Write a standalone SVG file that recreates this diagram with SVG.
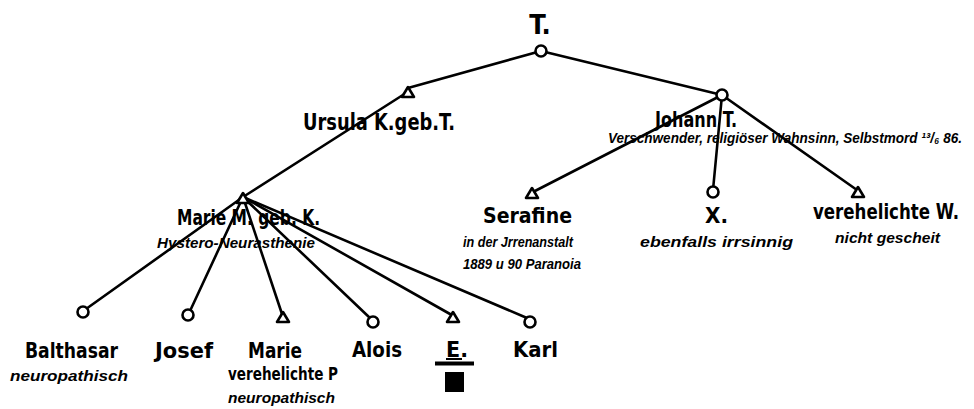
<svg xmlns="http://www.w3.org/2000/svg" width="974" height="409" viewBox="0 0 974 409">
  <style>
    .name { font-family: "DejaVu Sans Condensed", "Liberation Sans", sans-serif; font-weight: bold; fill: #000; }
    .note { font-family: "Liberation Sans", "DejaVu Sans", sans-serif; font-style: italic; font-weight: bold; fill: #000; font-size: 15px; }
    .link { stroke: #000; stroke-width: 2.6; fill: none; stroke-linecap: round; }
    .sym { stroke: #000; stroke-width: 2.6; fill: #fff; }
  </style>
  <defs>
    <!-- male: circle, female: triangle -->
    <circle id="male" r="5.5" class="sym"/>
    <path id="female" d="M0,-6 L6,4 L-6,4 Z" class="sym" stroke-linejoin="round"/>
  </defs>
  <rect width="974" height="409" fill="#fff"/>

  <!-- connectors -->
  <g id="links" class="link">
    <line x1="541" y1="51" x2="408" y2="88"/>
    <line x1="541" y1="51" x2="722" y2="95"/>
    <line x1="406" y1="93" x2="243" y2="197"/>
    <line x1="722" y1="95" x2="533" y2="192"/>
    <line x1="722" y1="95" x2="713" y2="190"/>
    <line x1="722" y1="95" x2="857" y2="190"/>
    <line x1="243" y1="197" x2="86" y2="309"/>
    <line x1="243" y1="197" x2="190" y2="311"/>
    <line x1="243" y1="197" x2="282" y2="314"/>
    <line x1="243" y1="197" x2="370" y2="318"/>
    <line x1="243" y1="197" x2="450" y2="314"/>
    <line x1="243" y1="197" x2="527" y2="318"/>
  </g>

  <g id="n-T">
    <use href="#male" x="541" y="51"/>
    <text class="name" x="540" y="34" font-size="27" text-anchor="middle">T.</text>
  </g>

  <g id="n-ursula">
    <use href="#female" x="408" y="93"/>
    <text class="name" x="303" y="130" font-size="23" textLength="152" lengthAdjust="spacingAndGlyphs">Ursula K.geb.T.</text>
  </g>

  <g id="n-johann">
    <use href="#male" x="722" y="95"/>
    <text class="name" x="655" y="127" font-size="22" textLength="82" lengthAdjust="spacingAndGlyphs">Johann T.</text>
    <text class="note" x="608" y="143" textLength="354" lengthAdjust="spacingAndGlyphs">Verschwender, religiöser Wahnsinn, Selbstmord ¹³/₆ 86.</text>
  </g>

  <g id="n-marie-m">
    <use href="#female" x="243" y="199"/>
    <text class="name" x="177" y="225" font-size="22" textLength="143" lengthAdjust="spacingAndGlyphs">Marie M. geb. K.</text>
    <text class="note" x="157" y="248" textLength="158" lengthAdjust="spacingAndGlyphs">Hystero-Neurasthenie</text>
  </g>

  <g id="n-serafine">
    <use href="#female" x="532" y="194"/>
    <text class="name" x="483" y="223" font-size="22" textLength="89" lengthAdjust="spacingAndGlyphs">Serafine</text>
    <text class="note" x="463" y="247" textLength="110" lengthAdjust="spacingAndGlyphs">in der Jrrenanstalt</text>
    <text class="note" x="463" y="269" textLength="118" lengthAdjust="spacingAndGlyphs">1889 u 90 Paranoia</text>
  </g>

  <g id="n-x">
    <use href="#male" x="713" y="192"/>
    <text class="name" x="705" y="223" font-size="22" textLength="23" lengthAdjust="spacingAndGlyphs">X.</text>
    <text class="note" x="640" y="247" textLength="153" lengthAdjust="spacingAndGlyphs">ebenfalls irrsinnig</text>
  </g>

  <g id="n-verehelichte-w">
    <use href="#female" x="858" y="193"/>
    <text class="name" x="813" y="219" font-size="21" textLength="146" lengthAdjust="spacingAndGlyphs">verehelichte W.</text>
    <text class="note" x="835" y="243" textLength="105" lengthAdjust="spacingAndGlyphs">nicht gescheit</text>
  </g>

  <g id="n-balthasar">
    <use href="#male" x="83" y="312"/>
    <text class="name" x="25" y="358" font-size="22" textLength="93" lengthAdjust="spacingAndGlyphs">Balthasar</text>
    <text class="note" x="10" y="381" textLength="118" lengthAdjust="spacingAndGlyphs">neuropathisch</text>
  </g>

  <g id="n-josef">
    <use href="#male" x="188" y="315"/>
    <text class="name" x="155" y="358" font-size="22" textLength="58" lengthAdjust="spacingAndGlyphs">Josef</text>
  </g>

  <g id="n-marie">
    <use href="#female" x="283" y="318"/>
    <text class="name" x="248" y="358" font-size="22" textLength="54" lengthAdjust="spacingAndGlyphs">Marie</text>
    <text class="name" x="228" y="380" font-size="17" textLength="110" lengthAdjust="spacingAndGlyphs">verehelichte P</text>
    <text class="note" x="228" y="403" textLength="107" lengthAdjust="spacingAndGlyphs">neuropathisch</text>
  </g>

  <g id="n-alois">
    <use href="#male" x="373" y="322"/>
    <text class="name" x="352" y="357" font-size="22" textLength="50" lengthAdjust="spacingAndGlyphs">Alois</text>
  </g>

  <g id="n-e">
    <use href="#female" x="453" y="318"/>
    <text class="name" x="446" y="357" font-size="22" textLength="22" lengthAdjust="spacingAndGlyphs">E.</text>
    <line x1="446" y1="359" x2="462" y2="359" stroke="#000" stroke-width="2"/>
    <rect x="435" y="361.5" width="39" height="4" fill="#000"/>
    <rect x="445" y="372" width="19" height="20" fill="#000"/>
  </g>

  <g id="n-karl">
    <use href="#male" x="530" y="322"/>
    <text class="name" x="513" y="357" font-size="22" textLength="45" lengthAdjust="spacingAndGlyphs">Karl</text>
  </g>
</svg>
